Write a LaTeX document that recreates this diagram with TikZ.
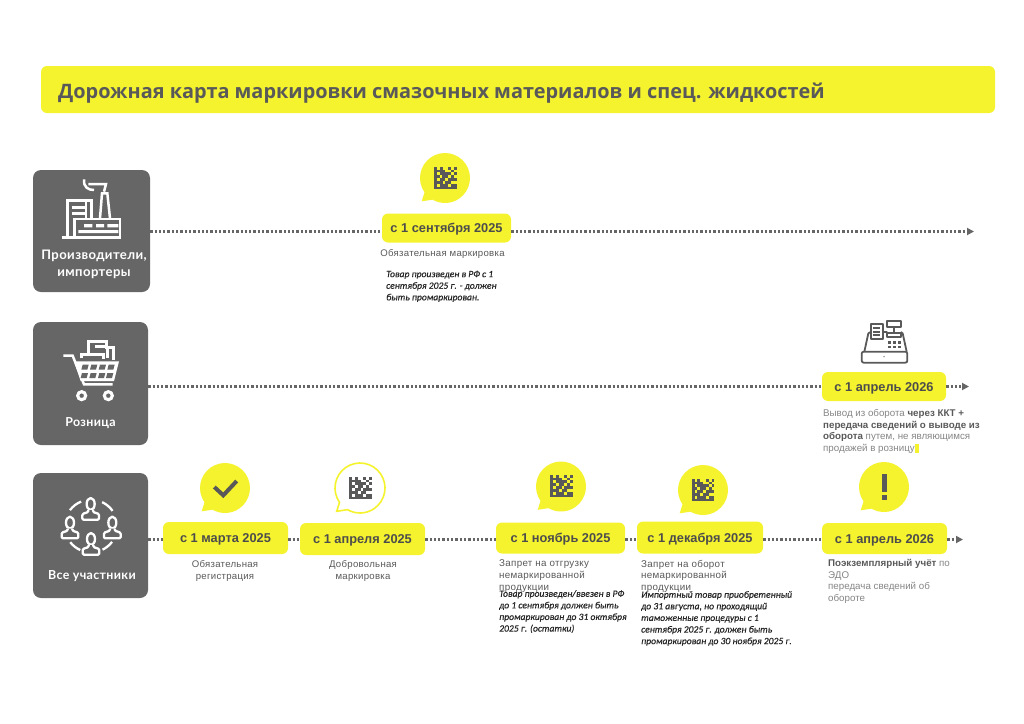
\documentclass[tikz,border=0pt]{standalone}
\usepackage{fontspec}
\usetikzlibrary{arrows.meta}
\setmainfont{Liberation Sans}
\newfontfamily\ttlfont{Open Sans}
\newfontfamily\labfont[LetterSpace=3]{Lato}
\newfontfamily\grayfont[LetterSpace=3]{Liberation Sans}
\newfontfamily\itfont[ItalicFeatures={FakeBold=0.5}]{Carlito}
\definecolor{yel}{HTML}{F5F32E}
\definecolor{dk}{HTML}{666666}
\definecolor{tx}{HTML}{595959}
\definecolor{lt}{HTML}{858585}
\tikzset{
 titlebox/.style={fill=yel,rounded corners=6pt,minimum width=954pt,minimum height=47pt,inner sep=0pt},
 rolebox/.style={fill=dk,rounded corners=8pt,inner sep=0pt},
 datebox/.style={fill=yel,rounded corners=6pt,inner sep=0pt,text=tx!85!black,text height=10.5pt,text depth=1.5pt,font=\fontsize{12.8}{15}\selectfont\bfseries},
 rolelab/.style={text=white,font=\labfont\fontsize{12.4}{17}\selectfont\bfseries,align=center,inner sep=0pt},
 rolebig/.style={rolelab,font=\labfont\fontsize{13.1}{17}\selectfont\bfseries},
 graylab/.style={text=tx,font=\grayfont\fontsize{9.6}{12}\selectfont,align=center,inner sep=0pt},
 graybig/.style={text=tx,font=\grayfont\fontsize{9.8}{11.7}\selectfont,align=left,inner sep=0pt,anchor=north west},
 notelab/.style={text=lt,font=\fontsize{9.75}{11.7}\selectfont,align=left,inner sep=0pt,anchor=north west},
 italab/.style={text=black!85,font=\itfont\fontsize{9.6}{11.6}\selectfont\itshape,align=left,inner sep=0pt,anchor=north west},
 dotline/.style={draw=dk,line width=2.3pt,dash pattern=on 2.3pt off 2pt},
 dotarrow/.style={dotline,-{Triangle[length=7pt,width=7pt]}},
 ico/.style={draw=white,line width=2.5pt,line join=miter},
 icothin/.style={draw=white,line width=2.3pt,line join=round},
}
\newcommand\speech[3]{% x, y, style
 \path[#3,shift={(#1,#2)}] (-23.3,23.3) -- (145:25) arc[start angle=145,end angle=480,radius=25] -- cycle;}
\newcommand\dmcode[2]{%
 \begin{scope}[shift={(#1-11.3,#2-11.3)}]
 \foreach \j/\lst in {0/{0,2,5,7},1/{0,1,2,3,6},2/{0,2,3,4,5,7},3/{0,1,3,4,6},4/{0,2,3,5,6,7},5/{0,1,2,4,5},6/{0,2,3,4,6,7},7/{0,1,2,3,4,5,6,7}}{
  \foreach \i in \lst {\fill[tx] (\i*2.83,\j*2.83) rectangle ++(2.88,2.88);}}
 \end{scope}}
\newcommand\person[2]{%
 \begin{scope}[shift={(#1,#2)}]
  \draw[icothin] (0,0) ellipse[x radius=12,y radius=18];
  \draw[icothin,fill=dk,rounded corners=1.2pt] (-7,18) -- (-7,24) -- (-25,30) -- (-25,47) -- (25,47) -- (25,30) -- (7,24) -- (7,18);
 \end{scope}}
\newcommand\cell[2]{\fill[dk] (#1,#2) -- ++(18,0) -- ++(-4,15) -- ++(-18,0) -- cycle;}
\begin{document}
\begin{tikzpicture}[x=1pt,y=-1pt]
\useasboundingbox (0,0) rectangle (1024,723);
% title
\node[titlebox] (title) at (518,89.5) {};
\node[anchor=mid west,inner sep=0pt,text=tx,font=\ttlfont\fontsize{19.9}{24}\selectfont\bfseries] (titletext) at (58,96) {Дорожная карта маркировки смазочных материалов и спец. жидкостей};
% role boxes
\node[rolebox,minimum width=117pt,minimum height=122pt] (prod) at (91.5,231) {};
\node[rolebox,minimum width=115pt,minimum height=123pt] (retail) at (90.5,383.5) {};
\node[rolebox,minimum width=115pt,minimum height=125pt] (all) at (90.5,535.5) {};
\node[rolebig] (prodlab) at (94,264.5) {Производители,\\импортеры};
\node[rolelab] (retaillab) at (90.5,423) {Розница};
\node[rolelab] (alllab) at (92,576.5) {Все участники};
% date boxes
\node[datebox,minimum width=129pt,minimum height=29pt] (sep) at (446.5,228) {с 1 сентября 2025};
\node[datebox,minimum width=124pt,minimum height=29pt] (apr26a) at (884,386.5) {с 1 апрель 2026};
\node[datebox,minimum width=125pt,minimum height=32pt] (mar) at (225.5,538) {с 1 марта 2025};
\node[datebox,minimum width=125pt,minimum height=32pt] (apr) at (362.5,539) {с 1 апреля 2025};
\node[datebox,minimum width=129pt,minimum height=31pt] (nov) at (560.5,538) {с 1 ноябрь 2025};
\node[datebox,minimum width=126pt,minimum height=32pt] (dec) at (700,537.5) {с 1 декабря 2025};
\node[datebox,minimum width=125pt,minimum height=31pt] (apr26b) at (884.5,538.5) {с 1 апрель 2026};
% arrow ends
\coordinate (end1) at (974,231.5);
\coordinate (end2) at (969,386.5);
\coordinate (end3) at (963,539.5);
% connectors
\draw[dotline] (prod.east |- end1) -- (sep.west |- end1);
\draw[dotarrow] (sep.east |- end1) -- (end1);
\draw[dotline] (retail.east |- end2) -- (apr26a.west |- end2);
\draw[dotarrow] (apr26a.east |- end2) -- (end2);
\draw[dotline] (all.east |- end3) -- (mar.west |- end3);
\draw[dotline] (mar.east |- end3) -- (apr.west |- end3);
\draw[dotline] (apr.east |- end3) -- (nov.west |- end3);
\draw[dotline] (nov.east |- end3) -- (dec.west |- end3);
\draw[dotline] (dec.east |- end3) -- (apr26b.west |- end3);
\draw[dotarrow] (apr26b.east |- end3) -- (end3);
% bubbles
\speech{445}{178}{fill=yel}
\speech{225}{488}{fill=yel}
\speech{360}{488}{fill=white,draw=yel,line width=1.6pt}
\speech{561}{486.5}{fill=yel}
\speech{703}{490}{fill=yel}
\speech{884}{487}{fill=yel}
\dmcode{445.3}{178}
\dmcode{360.5}{488}
\dmcode{561.5}{486}
\dmcode{703}{490}
\draw[tx,line width=4pt] (214.3,487) -- (223.3,495.3) -- (236.7,481);
\fill[tx] (881.5,474.3) rectangle (887.2,492.3);
\fill[tx] (881.5,495) rectangle (887.2,500);
% factory icon
\begin{scope}[shift={(20,150)},scale=1/3]
 \draw[ico,line width=3pt] (125,263) -- (302,263);
 \draw[ico] (142,263) -- (142,152) -- (215,152) -- (215,205);
 \draw[ico] (163,263) -- (163,207) -- (300,207) -- (300,263);
 \draw[ico] (155,172) -- (198,172) (155,190) -- (198,190) (198,152) -- (198,205);
 \draw[ico] (240,205) -- (246,130) -- (262,130) -- (270,205);
 \draw[ico] (252,125) -- (258,102) -- (205,102) (192,88) .. controls (190,112) and (205,120) .. (222,120);
 \fill[white] (192,222) rectangle (217,232) (228,222) rectangle (252,232) (262,222) rectangle (295,232) (175,240) rectangle (295,249);
\end{scope}
% cart icon
\begin{scope}[shift={(20,315)},scale=1/3]
 \draw[ico] (130,122) -- (158,122) -- (192,208) -- (278,208);
 \fill[white] (162,139) -- (297,139) -- (282,198) -- (182,198) -- cycle;
 \cell{188}{149}\cell{214}{149}\cell{240}{149}\cell{266}{149}
 \cell{186}{174}\cell{212}{174}\cell{238}{174}\cell{262}{174}
 \draw[ico] (185,130) -- (185,118) -- (250,118) -- (250,132);
 \draw[ico] (205,118) -- (205,80) -- (260,80) -- (260,98) -- (280,98) -- (280,134);
 \draw[ico] (225,95) -- (262,95) (262,95) -- (262,130);
 \fill[white,even odd rule] (185,242) circle[radius=17] (185,242) circle[radius=7] (265,242) circle[radius=17] (265,242) circle[radius=7];
\end{scope}
% people icon
\begin{scope}[shift={(20,455)},scale=1/3]
 \foreach \a/\b in {-143/-112,-65/-35,142/114,64/37}{\draw[icothin] (213,213)+(\a:79) arc[start angle=\a,end angle=\b,radius=79];}
 \person{212}{147}
 \person{150}{203}
 \person{277}{203}
 \person{213}{252}
\end{scope}
% register icon
\begin{scope}[shift={(800,310)},scale=1/3,line width=1.8pt,tx,line join=round]
 \draw[rounded corners=2pt] (185,125) rectangle (322,158);
 \draw (193,125) -- (205,70) -- (212,66) (248,66) -- (262,66) (302,66) -- (308,70) -- (320,125);
 \draw (212,88) -- (212,42) -- (248,42) -- (248,88) -- cycle;
 \draw (262,33) rectangle (302,50) (282,50) -- (282,66);
 \draw (260,68) rectangle (303,82);
 \draw (220,55) -- (240,55) (220,65) -- (240,65) (220,75) -- (240,75);
 \foreach \x in {265,280,295}{\foreach \y in {93,107}{\fill (\x,\y) rectangle ++(9,8);}}
 \fill (252,140) circle[radius=2];
\end{scope}
% labels
\node[graylab] (t1) at (442.5,254) {Обязательная маркировка};
\node[italab] (t2) at (386,270.5) {Товар произведен в РФ с 1\\сентября 2025 г. - должен\\быть промаркирован.};
\fill[yel] (915,444) rectangle (919,453);
\node[notelab] (t3) at (823,409) {Вывод из оборота \textcolor{tx}{\bfseries через ККТ +}\\\textcolor{tx}{\bfseries передача сведений о выводе из}\\\textcolor{tx}{\bfseries оборота} путем, не являющимся\\продажей в розницу};
\node[graylab] (t4) at (225,571) {Обязательная\\регистрация};
\node[graylab] (t5) at (363,571) {Добровольная\\маркировка};
\node[graybig] (t6) at (499,559.7) {Запрет на отгрузку\\немаркированной\\продукции};
\node[italab] (t7) at (499,590) {Товар произведен/ввезен в РФ\\до 1 сентября должен быть\\промаркирован до 31 октября\\2025 г. (остатки)};
\node[graybig] (t8) at (641,559.7) {Запрет на оборот\\немаркированной\\продукции};
\node[italab] (t9) at (641,591) {Импортный товар приобретенный\\до 31 августа, но проходящий\\таможенные процедуры с 1\\сентября 2025 г. должен быть\\промаркирован до 30 ноября 2025 г.};
\node[notelab] (t10) at (828,559) {\textcolor{tx}{\bfseries Поэкземплярный учёт} по\\ЭДО\\передача сведений об\\обороте};
\end{tikzpicture}
\end{document}
